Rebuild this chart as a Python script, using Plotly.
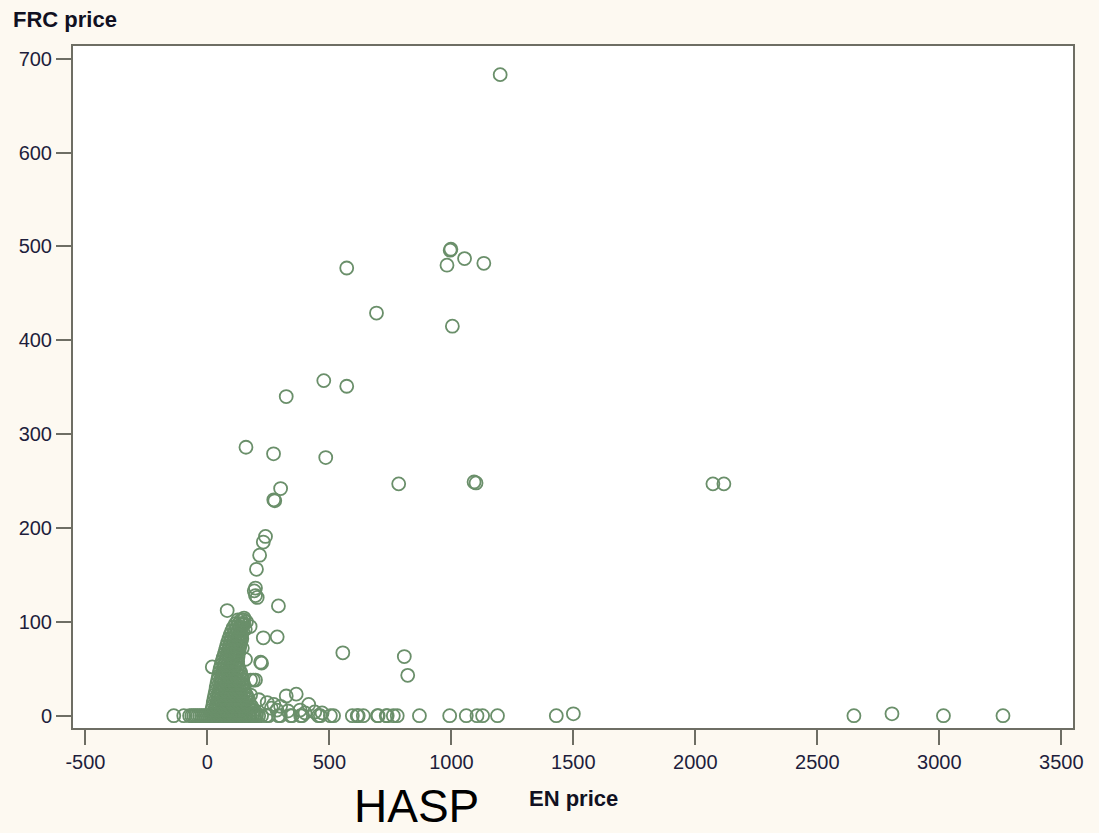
import plotly.graph_objects as go

# ---- scattered points (EN price, FRC price) ----
outlier_en = [1200, 995, 998, 982, 1054, 1133, 571, 693, 1004, 477, 571, 323,
              158, 271, 485, 300, 272, 276, 784, 1093, 1101, 2072, 2117,
              238, 229, 214, 201, 197, 192, 197, 204, 291, 81, 229, 286,
              555, 807, 821, 20, 222, 188, 323, 364, 415, 245, 272,
              150, 160, 145, 175, 155, 143, 156, 136, 177, 197, 218, 136, 177, 211,
              262, 285, 300, 330, 380, 400, 440, 470, 1500, 2806]
outlier_frc = [683, 496, 497, 480, 487, 482, 477, 429, 415, 357, 351, 340,
               286, 279, 275, 242, 230, 229, 247, 249, 248, 247, 247,
               191, 185, 171, 156, 136, 133, 128, 126, 117, 112, 83, 84,
               67, 63, 43, 52, 56, 38, 21, 23, 12, 14, 12,
               104, 100, 97, 95, 92, 72, 60, 46, 38, 38, 57, 19, 22, 17,
               8, 6, 10, 5, 6, 3, 4, 3, 2, 2]

# points lying on FRC price = 0
zero_row_en = [-138, -97, -73, -64, -56, -48, -40, -32, -24, -16, -8, 0, 8, 16, 24,
               32, 40, 48, 56, 64, 72, 80, 88, 96, 104, 112, 120, 128, 136, 144,
               152, 160, 168, 176, 184, 192, 200, 210, 222, 242, 251, 291, 299, 341,
               347, 382, 388, 455, 463, 504, 517, 594, 614, 618, 639, 697, 700, 733,
               737, 762, 778, 869, 993, 1061, 1105, 1128, 1189, 1430, 2650, 3017, 3261]

# dense cluster near the origin, read row by row (FRC level -> EN prices)
cluster_levels = [2, 6, 10, 14, 18, 22, 26, 30, 34, 38, 42, 46, 50, 54, 58, 62,
                  66, 70, 74, 78, 82, 86, 90, 94, 98, 102]
cluster_rows = [
    [14, 28, 42, 57, 71, 86, 100, 115, 129, 144, 158, 172, 187, 201],
    [18, 32, 47, 61, 76, 90, 105, 119, 134, 148, 163, 177, 192],
    [21, 36, 50, 65, 79, 94, 108, 123, 137, 152, 166, 181],
    [24, 39, 53, 68, 82, 97, 111, 126, 140, 155, 170],
    [27, 42, 56, 71, 85, 100, 114, 129, 143, 158, 168],
    [30, 45, 59, 74, 88, 103, 117, 132, 146, 160],
    [33, 48, 62, 77, 91, 106, 120, 135, 152],
    [36, 51, 65, 80, 94, 109, 123, 138, 150],
    [39, 54, 68, 83, 97, 112, 126, 140, 147],
    [42, 57, 71, 86, 100, 115, 129, 144],
    [45, 60, 74, 89, 103, 117, 131, 140],
    [49, 63, 77, 91, 105, 119, 133],
    [52, 66, 80, 94, 108, 122, 130],
    [56, 70, 84, 97, 111, 125],
    [60, 74, 87, 101, 114, 124],
    [65, 78, 91, 104, 116, 125],
    [70, 82, 95, 107, 119, 127],
    [74, 86, 98, 110, 121, 130],
    [78, 90, 102, 114, 126, 133],
    [83, 94, 106, 118, 130, 137],
    [88, 99, 111, 123, 135, 141],
    [93, 105, 116, 128, 140],
    [99, 111, 123, 135, 145],
    [106, 118, 130, 142],
    [115, 128, 140, 150],
    [125, 138, 148],
]

x_ticks = [-500, 0, 500, 1000, 1500, 2000, 2500, 3000, 3500]
y_ticks = [0, 100, 200, 300, 400, 500, 600, 700]

# ---- assemble ----
en = list(outlier_en) + list(zero_row_en)
frc = list(outlier_frc) + [0] * len(zero_row_en)
for lvl, row in zip(cluster_levels, cluster_rows):
    en += row
    frc += [lvl] * len(row)

GREEN = "#6a8f6a"
FRAME = "#6e6e64"
TICKTXT = "#1e1e3c"

fig = go.Figure()
fig.add_trace(go.Scatter(
    x=en, y=frc, mode="markers",
    marker=dict(symbol="circle-open", size=13, color=GREEN,
                line=dict(width=1.8, color=GREEN)),
    showlegend=False, hoverinfo="x+y"))

W, H = 1099, 833
L, R, T, B = 73, 26, 46, 105

fig.update_layout(
    width=W, height=H,
    margin=dict(l=L, r=R, t=T, b=B, pad=0),
    paper_bgcolor="#fdf9f1", plot_bgcolor="#ffffff",
    font=dict(family="Liberation Sans, Arial, sans-serif", size=20, color=TICKTXT),
    xaxis=dict(range=[-551, 3548], tickvals=x_ticks, ticktext=[str(v) for v in x_ticks],
               ticks="outside", ticklen=15, tickwidth=2, tickcolor=FRAME,
               showline=True, linecolor=FRAME, linewidth=2, mirror=True,
               showgrid=False, zeroline=False,
               tickfont=dict(size=20, color=TICKTXT)),
    yaxis=dict(range=[-13.1, 713.5], tickvals=y_ticks, ticktext=[str(v) for v in y_ticks],
               ticks="outside", ticklen=15, tickwidth=2, tickcolor=FRAME,
               showline=True, linecolor=FRAME, linewidth=2, mirror=True,
               showgrid=False, zeroline=False,
               tickfont=dict(size=20, color=TICKTXT)),
)

pw, ph = W - L - R, H - T - B

def px_to_paper(px, py):
    return (px - L) / pw, (H - B - py) / ph

ax, ay = px_to_paper(11, 19)
fig.add_annotation(text="<b>FRC price</b>", x=ax, y=ay, xref="paper", yref="paper",
                   xanchor="left", yanchor="middle", showarrow=False,
                   font=dict(size=22, color="#111122"))
ax, ay = px_to_paper(573, 799)
fig.add_annotation(text="<b>EN price</b>", x=ax, y=ay, xref="paper", yref="paper",
                   xanchor="center", yanchor="middle", showarrow=False,
                   font=dict(size=22, color="#111122"))
ax, ay = px_to_paper(416, 833)
fig.add_annotation(text="HASP", x=ax, y=ay, xref="paper", yref="paper",
                   xanchor="center", yanchor="bottom", showarrow=False,
                   borderpad=0,
                   font=dict(size=46, color="#000000"))

fig.write_html("out.html")
